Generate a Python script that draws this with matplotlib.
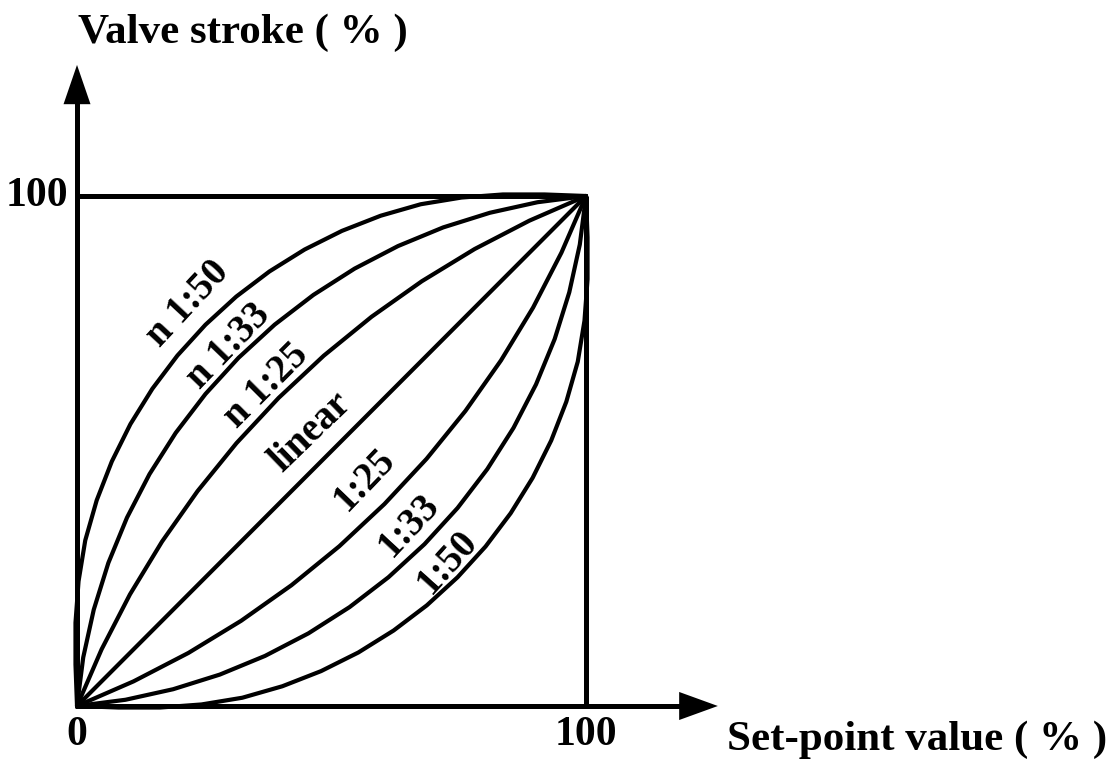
import matplotlib
matplotlib.use("Agg")
import matplotlib.pyplot as plt
from matplotlib.patches import Polygon

plt.rcParams['font.family'] = ['Liberation Serif', 'DejaVu Serif']
plt.rcParams['font.weight'] = 'bold'

# Flow characteristics: set-point value (%) -> valve stroke (%)
set_point_1_25 = [0, 11.11, 21.88, 32.25, 42.13, 51.53, 60.40, 68.68, 76.32, 83.29, 89.60, 95.17, 100]
stroke_1_25 = [0, 4.83, 10.40, 16.71, 23.68, 31.32, 39.60, 48.47, 57.87, 67.75, 78.12, 88.89, 100]

set_point_1_33 = [0, 9.52, 18.89, 28.06, 36.94, 45.46, 53.55, 61.18, 68.27, 74.77, 80.60, 85.76,
                  90.18, 93.84, 96.71, 98.78, 100]
stroke_1_33 = [0, 1.22, 3.29, 6.16, 9.82, 14.24, 19.39, 25.24, 31.73, 38.83, 46.44, 54.54,
               63.06, 71.94, 81.11, 90.48, 100]

set_point_1_50 = [0, 8.14, 16.32, 24.45, 32.48, 40.34, 47.95, 55.27, 62.20, 68.72, 74.76, 80.27,
                  85.20, 89.51, 93.16, 96.13, 98.38, 99.70, 100.30, 100.30, 100]
stroke_1_50 = [0, -0.30, -0.30, 0.30, 1.62, 3.87, 6.84, 10.49, 14.80, 19.73, 25.24, 31.28,
               37.80, 44.73, 52.05, 59.66, 67.52, 75.55, 83.68, 91.86, 100]

set_point_linear = [0, 100]
stroke_linear = [0, 100]

tick_labels = ["0", "100"]
x_title = "Set-point value ( % )"
y_title = "Valve stroke ( % )"

# (name, set-point, stroke); "n" curves are the inverse characteristics
curves = [
    ("1:25", set_point_1_25, stroke_1_25),
    ("1:33", set_point_1_33, stroke_1_33),
    ("1:50", set_point_1_50, stroke_1_50),
    ("n 1:25", stroke_1_25, set_point_1_25),
    ("n 1:33", stroke_1_33, set_point_1_33),
    ("n 1:50", stroke_1_50, set_point_1_50),
    ("linear", set_point_linear, stroke_linear),
]

# label placement (x, y, rotation)
label_pos = {
    "n 1:50": (21.9, 78.8, 47),
    "n 1:33": (29.8, 70.6, 46),
    "n 1:25": (37.2, 62.7, 45),
    "linear": (46.0, 53.6, 44),
    "1:25": (56.6, 44.3, 46),
    "1:33": (65.2, 35.5, 47),
    "1:50": (72.9, 28.2, 48),
}

fig = plt.figure(figsize=(11.11, 7.60), dpi=100)
ax = fig.add_axes([0, 0, 1, 1])
ax.set_xlim(-15.13, 203.14)
ax.set_ylim(-10.59, 138.43)
ax.axis("off")

lw_axis = 3.6
lw_curve = 3.0
k = "black"

# frame of the working range
ax.plot([0, 100], [100, 100], color=k, lw=lw_axis, solid_capstyle="butt")
ax.plot([100, 100], [0, 100], color=k, lw=lw_axis, solid_capstyle="butt")

# axes with arrow heads
ax.plot([-0.4, 118.5], [0, 0], color=k, lw=lw_axis, solid_capstyle="butt")
ax.plot([0, 0], [0, 118.2], color=k, lw=lw_axis, solid_capstyle="butt")
ax.add_patch(Polygon([[118.3, 2.75], [125.9, 0], [118.3, -2.75]], closed=True, color=k, lw=0))
ax.add_patch(Polygon([[-2.65, 118.0], [0, 125.7], [2.65, 118.0]], closed=True, color=k, lw=0))

for name, xs, ys in curves:
    ax.plot(xs, ys, color=k, lw=lw_curve, solid_capstyle="round", solid_joinstyle="round")
    lx, ly, rot = label_pos[name]
    ax.text(lx, ly, name, fontsize=28, fontweight="bold", rotation=rot,
            rotation_mode="anchor", ha="center", va="center")

# tick labels
ax.text(-1.8, 100, tick_labels[1], fontsize=30, fontweight="bold", ha="right", va="center")
ax.text(0, -2.0, tick_labels[0], fontsize=30, fontweight="bold", ha="center", va="top")
ax.text(100, -2.0, tick_labels[1], fontsize=30, fontweight="bold", ha="center", va="top")

# axis titles
ax.text(0.2, (706 - 43) / 5.10, y_title, fontsize=31, fontweight="bold", ha="left", va="baseline")
ax.text((727 - 77) / 5.09, (706 - 750) / 5.10, x_title, fontsize=31, fontweight="bold",
        ha="left", va="baseline")

fig.savefig("out.png", dpi=100)
